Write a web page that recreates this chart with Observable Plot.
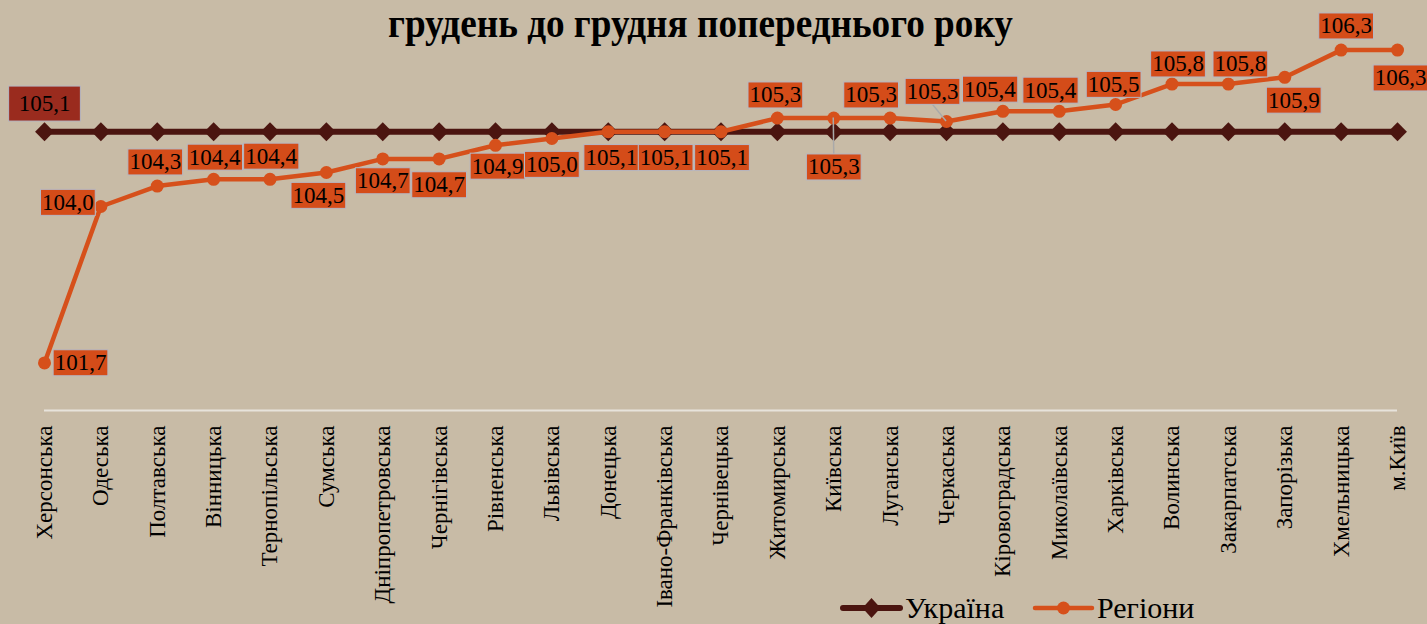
<!DOCTYPE html>
<html>
<head>
<meta charset="utf-8">
<script src="https://cdn.jsdelivr.net/npm/d3@7"></script>
<script src="https://cdn.jsdelivr.net/npm/@observablehq/plot@0.6"></script>
<style>
  html, body { margin: 0; padding: 0; background: #c8bba6; }
  #wrap { position: relative; width: 1427px; height: 624px; background: #c8bba6; overflow: hidden; }
  #chart { position: absolute; left: 0; top: 0; }
  #title { position: absolute; left: 0; top: 4px; width: 1400px; text-align: center;
           font-family: "Liberation Serif", "Times New Roman", serif; font-weight: bold;
           font-size: 39px; line-height: 39px; color: #000; white-space: nowrap; }
  #title span { display: inline-block; transform-origin: 50% 50%; }
  #legend { position: absolute; left: 0; top: 0; pointer-events: none; }
</style>
</head>
<body>
<div id="wrap">
  <div id="chart"></div>
  <div id="title"><span>грудень до грудня попереднього року</span></div>
  <svg id="legend" width="1427" height="624"></svg>
</div>
<script>
// ---------- data ----------
const regions = ["Херсонська","Одеська","Полтавська","Вінницька","Тернопільська","Сумська",
  "Дніпропетровська","Чернігівська","Рівненська","Львівська","Донецька","Івано-Франківська",
  "Чернівецька","Житомирська","Київська","Луганська","Черкаська","Кіровоградська",
  "Миколаївська","Харківська","Волинська","Закарпатська","Запорізька","Хмельницька","м.Київ"];
const regionValues = [101.7, 104.0, 104.3, 104.4, 104.4, 104.5, 104.7, 104.7, 104.9, 105.0,
  105.1, 105.1, 105.1, 105.3, 105.3, 105.3, 105.25, 105.4, 105.4, 105.5, 105.8, 105.8,
  105.9, 106.3, 106.3];
const ukraineValues = [105.1, 105.1, 105.1, 105.1, 105.1, 105.1, 105.1, 105.1, 105.1, 105.1,
  105.1, 105.1, 105.1, 105.1, 105.1, 105.1, 105.1, 105.1, 105.1, 105.1, 105.1, 105.1,
  105.1, 105.1, 105.1];
const seriesNames = ["Україна", "Регіони"];

// ---------- layout (label offsets in px) ----------
const labelDx = [36, -33, -2, 1, 1, -8, 0, 0, 2, 0, 3, 1, 1, -2, 0, -19, -14, -13, -9, -2, 6, 12, 9, 5, 3];
const labelDy = [0, -4, -24, -22, -23, 23, 22, 26, 21, 26, 26, 26, 26, -23, 49, -23, -30, -22, -21, -20, -20, -20, 23, -24, 28];
const leaderIdx = [14, 16];

const C = { bg: "#c8bba6", ukr: "#4b1510", reg: "#d6501b", ukrBox: "#9a2b1e", regBox: "#d44c19",
            boxStroke: "#b6b8c3", axis: "#e7e3db", leader: "#a9a9a9" };
const FONT = "'Liberation Serif', 'Times New Roman', serif";
const fmt = v => v.toFixed(1).replace(".", ",");

const rows = regions.map((r, i) => ({ region: r, value: regionValues[i], ukr: ukraineValues[i] }));

const labelMarks = rows.map((d, i) => Plot.text([d], {
  x: "region", y: "value", text: d => fmt(d.value),
  dx: labelDx[i], dy: labelDy[i], fontSize: 23, fill: "#000",
  ariaDescription: "label-" + i
}));

const plot = Plot.plot({
  width: 1427, height: 624,
  marginLeft: 44, marginRight: 30, marginTop: 36, marginBottom: 214,
  style: { background: "transparent", fontFamily: FONT, color: "#000" },
  x: { type: "point", domain: regions, padding: 0, round: false, axis: null },
  y: { domain: [101, 106.5], axis: null },
  marks: [
    Plot.ruleY([101], { stroke: C.axis, strokeWidth: 2 }),
    Plot.axisX({ tickRotate: -90, tickSize: 0, tickPadding: 15, fontSize: 23, fill: "#000", label: null }),
    Plot.line(rows, { x: "region", y: "ukr", stroke: C.ukr, strokeWidth: 6 }),
    Plot.dot(rows, { x: "region", y: "ukr", symbol: "diamond2", r: 8.5, fill: C.ukr, stroke: null }),
    Plot.line(rows, { x: "region", y: "value", stroke: C.reg, strokeWidth: 4.5 }),
    Plot.dot(rows, { x: "region", y: "value", r: 6.5, fill: C.reg, stroke: null }),
    Plot.text([rows[0]], { x: "region", y: "ukr", text: d => fmt(d.ukr), dy: -28, fontSize: 23,
      fill: "#000", ariaDescription: "ukr-label" }),
    ...labelMarks
  ]
});
document.getElementById("chart").appendChild(plot);

// title horizontal condensing
const ts = document.querySelector("#title span");
ts.style.transform = `scaleX(${625 / ts.offsetWidth})`;

// legend
const leg = d3.select("#legend");
const legendItems = [
  { name: seriesNames[0], color: C.ukr, x: 843, sym: "diamond" },
  { name: seriesNames[1], color: C.reg, x: 1035, sym: "circle" }
];
legendItems.forEach(it => {
  const g = leg.append("g");
  g.append("line").attr("x1", it.x).attr("x2", it.x + 57).attr("y1", 608).attr("y2", 608)
    .attr("stroke", it.color).attr("stroke-width", it.sym === "diamond" ? 6 : 4.5).attr("stroke-linecap", "round");
  const cx = it.x + 28.5;
  if (it.sym === "diamond") {
    g.append("path").attr("d", `M${cx},598 L${cx + 9},608 L${cx},618 L${cx - 9},608 Z`).attr("fill", it.color);
  } else {
    g.append("circle").attr("cx", cx).attr("cy", 608).attr("r", 6.5).attr("fill", it.color);
  }
  g.append("text").attr("x", it.x + 62).attr("y", 618).attr("font-family", FONT)
    .attr("font-size", 30).attr("fill", "#000").text(it.name);
});

const NS = "http://www.w3.org/2000/svg";
function boxify(sel, fill, px, py) {
  plot.querySelectorAll(sel).forEach(t => {
    const b = t.getBBox();
    const r = document.createElementNS(NS, "rect");
    r.setAttribute("x", b.x - px);
    r.setAttribute("y", b.y - py);
    r.setAttribute("width", b.width + 2 * px);
    r.setAttribute("height", b.height + 2 * py);
    r.setAttribute("fill", fill);
    r.setAttribute("stroke", C.boxStroke);
    r.setAttribute("stroke-width", 1);
    const tr = t.getAttribute("transform");
    if (tr) r.setAttribute("transform", tr);
    t.parentNode.insertBefore(r, t);
  });
}
boxify('g[aria-description^="label-"] text', C.regBox, 1.5, 0.5);
boxify('g[aria-description="ukr-label"] text', C.ukrBox, 10, 5);

// leader lines for displaced labels
const sx = plot.scale("x"), sy = plot.scale("y");
const svgBox = plot.getBoundingClientRect();
const firstLabel = plot.querySelector('g[aria-description="label-0"]');
if (firstLabel) {
  const lg = document.createElementNS(NS, "g");
  leaderIdx.forEach(i => {
    const rect = plot.querySelector(`g[aria-description="label-${i}"] rect`);
    if (!rect) return;
    const rb = rect.getBoundingClientRect();
    const px = sx.apply(regions[i]), py = sy.apply(regionValues[i]);
    const cx = rb.left - svgBox.left + rb.width / 2;
    const top = rb.top - svgBox.top, bottom = rb.bottom - svgBox.top;
    const ey = (top + bottom) / 2 > py ? top : bottom;
    const l = document.createElementNS(NS, "line");
    l.setAttribute("x1", px); l.setAttribute("y1", py);
    l.setAttribute("x2", cx); l.setAttribute("y2", ey);
    l.setAttribute("stroke", C.leader); l.setAttribute("stroke-width", 1.5);
    lg.appendChild(l);
  });
  firstLabel.parentNode.insertBefore(lg, firstLabel);
}
</script>
</body>
</html>
